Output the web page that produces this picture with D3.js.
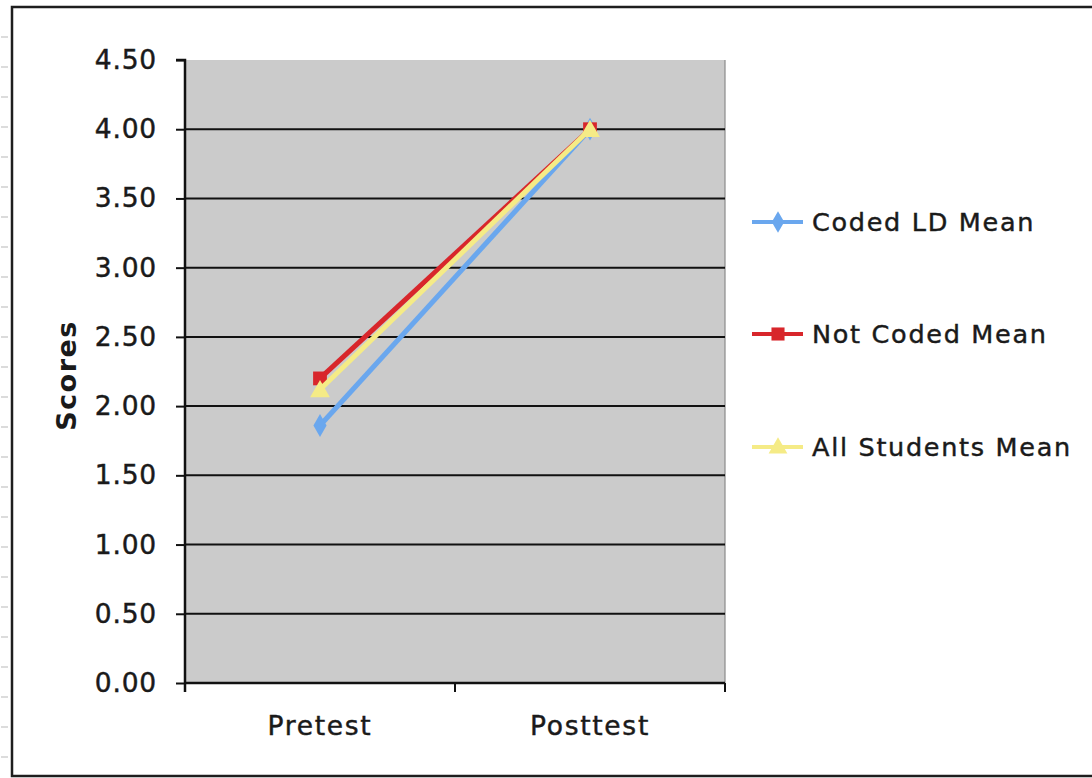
<!DOCTYPE html>
<html>
<head>
<meta charset="utf-8">
<script src="https://cdn.jsdelivr.net/npm/d3@7"></script>
<style>
  html, body { margin: 0; padding: 0; background: #fff; }
  svg { display: block; }
  text { font-family: "DejaVu Sans", Verdana, sans-serif; fill: #1a1a1a; }
  .heavy { stroke: #1a1a1a; stroke-width: 0.45px; }
</style>
</head>
<body>
<svg id="chart" width="1092" height="778"></svg>
<script>
// Test occasions along the x axis
const categories = ["Pretest", "Posttest"];

// Mean scores per group
const codedLD   = [1.86, 4.00];
const notCoded  = [2.20, 4.00];
const allStudents = [2.12, 4.00];

// Series names as shown in the legend
const seriesNames = ["Coded LD Mean", "Not Coded Mean", "All Students Mean"];

// Value-axis tick labels
const yTicks = [0, 0.5, 1, 1.5, 2, 2.5, 3, 3.5, 4, 4.5];

const series = [
  { name: seriesNames[0], values: codedLD,     color: "#6aa7ee", marker: "diamond" },
  { name: seriesNames[1], values: notCoded,    color: "#d8262b", marker: "square" },
  { name: seriesNames[2], values: allStudents, color: "#f5eb86", marker: "triangle" }
];

const svg = d3.select("#chart");
const W = 1092, H = 778;

// outer frame
svg.append("rect")
  .attr("x", 12).attr("y", 7)
  .attr("width", W + 20).attr("height", 769)
  .attr("fill", "#fff").attr("stroke", "#1e1e1e").attr("stroke-width", 2.5);

// faint ruler marks along the left margin
const rulerY = d3.range(37, 760, 30);
svg.append("g").selectAll("line").data(rulerY).join("line")
  .attr("x1", 1).attr("x2", 8).attr("y1", d => d).attr("y2", d => d)
  .attr("stroke", "#c4c4c4").attr("stroke-width", 1.2);

const plot = { left: 185, right: 725, top: 60, bottom: 683 };

const x = d3.scaleBand().domain(categories).range([plot.left, plot.right]).padding(0);
const y = d3.scaleLinear().domain([0, 4.5]).range([plot.bottom, plot.top]);

// plot background
svg.append("rect")
  .attr("x", plot.left).attr("y", plot.top)
  .attr("width", plot.right - plot.left).attr("height", plot.bottom - plot.top)
  .attr("fill", "#cbcbcb");

// right edge of plot area
svg.append("line")
  .attr("x1", plot.right).attr("x2", plot.right)
  .attr("y1", plot.top).attr("y2", plot.bottom)
  .attr("stroke", "#8a8a8a").attr("stroke-width", 1.2);

// horizontal gridlines
svg.append("g").selectAll("line")
  .data(yTicks.filter(v => v > 0 && v < 4.5))
  .join("line")
  .attr("x1", plot.left).attr("x2", plot.right)
  .attr("y1", d => y(d)).attr("y2", d => y(d))
  .attr("stroke", "#111").attr("stroke-width", 2);

// y axis
const yAxis = d3.axisLeft(y)
  .tickValues(yTicks)
  .tickFormat(d3.format(".2f"))
  .tickSize(9)
  .tickPadding(19);
const gy = svg.append("g")
  .attr("transform", `translate(${plot.left},0)`)
  .call(yAxis);
gy.select(".domain").attr("stroke", "#111").attr("stroke-width", 2.5)
  .attr("d", `M-9,${plot.top}H0V${plot.bottom + 9}`);
gy.selectAll(".tick line").attr("stroke", "#111").attr("stroke-width", 2);
gy.selectAll(".tick text")
  .attr("class", "heavy")
  .style("font-size", "26.5px")
  .style("letter-spacing", "0.8px")
  .style("font-family", "'DejaVu Sans', Verdana, sans-serif")
  .attr("fill", "#1a1a1a");

// x axis: ticks sit on category boundaries, labels at category centres
const boundaries = categories.map(c => x(c)).concat([plot.right]);
svg.append("line")
  .attr("x1", plot.left).attr("x2", plot.right)
  .attr("y1", plot.bottom).attr("y2", plot.bottom)
  .attr("stroke", "#111").attr("stroke-width", 2.5);
svg.append("g").selectAll("line")
  .data(boundaries.slice(1))
  .join("line")
  .attr("x1", d => d).attr("x2", d => d)
  .attr("y1", plot.bottom).attr("y2", plot.bottom + 9)
  .attr("stroke", "#111").attr("stroke-width", 2);
svg.append("g").selectAll("text")
  .data(categories)
  .join("text")
  .attr("class", "heavy")
  .attr("x", d => x(d) + x.bandwidth() / 2)
  .attr("y", 735)
  .attr("text-anchor", "middle")
  .style("font-size", "26.5px")
  .style("letter-spacing", "1.7px")
  .text(d => d);

// y axis title
svg.append("text")
  .attr("transform", `translate(76,${(plot.top + plot.bottom) / 2 + 4}) rotate(-90)`)
  .attr("text-anchor", "middle")
  .style("font-size", "27px")
  .style("letter-spacing", "1.5px")
  .style("font-weight", "bold")
  .attr("fill", "#111")
  .text("Scores");

const cx = c => x(c) + x.bandwidth() / 2;

const symbolFor = m => m === "diamond" ? d3.symbolDiamond
                     : m === "square" ? d3.symbolSquare
                     : d3.symbolTriangle;
const sizeFor = m => m === "diamond" ? 150 : m === "square" ? 190 : 170;

const line = d3.line().x((d, i) => cx(categories[i])).y(d => y(d));

// series lines and markers
series.forEach(s => {
  const g = svg.append("g");
  g.append("path")
    .datum(s.values)
    .attr("d", line)
    .attr("fill", "none")
    .attr("stroke", s.color)
    .attr("stroke-width", 5);
  g.selectAll("path.mk")
    .data(s.values)
    .join("path")
    .attr("class", "mk")
    .attr("transform", (d, i) => `translate(${cx(categories[i])},${y(d) + (s.marker === "triangle" ? 2 : 0)})`)
    .attr("d", d3.symbol().type(symbolFor(s.marker)).size(sizeFor(s.marker)))
    .attr("fill", s.color);
});

// legend
const legendY = [222, 334, 447];
const lg = svg.append("g");
series.forEach((s, i) => {
  const ly = legendY[i];
  lg.append("line")
    .attr("x1", 752).attr("x2", 803).attr("y1", ly).attr("y2", ly)
    .attr("stroke", s.color).attr("stroke-width", 4);
  lg.append("path")
    .attr("transform", `translate(778,${ly + (s.marker === "triangle" ? 1 : 0)})`)
    .attr("d", d3.symbol().type(symbolFor(s.marker)).size(sizeFor(s.marker) * 0.9))
    .attr("fill", s.color);
  lg.append("text")
    .attr("class", "heavy")
    .attr("x", 812).attr("y", ly)
    .attr("dy", "0.36em")
    .style("font-size", "25.5px")
    .style("letter-spacing", "1.7px")
    .text(s.name);
});
</script>
</body>
</html>
